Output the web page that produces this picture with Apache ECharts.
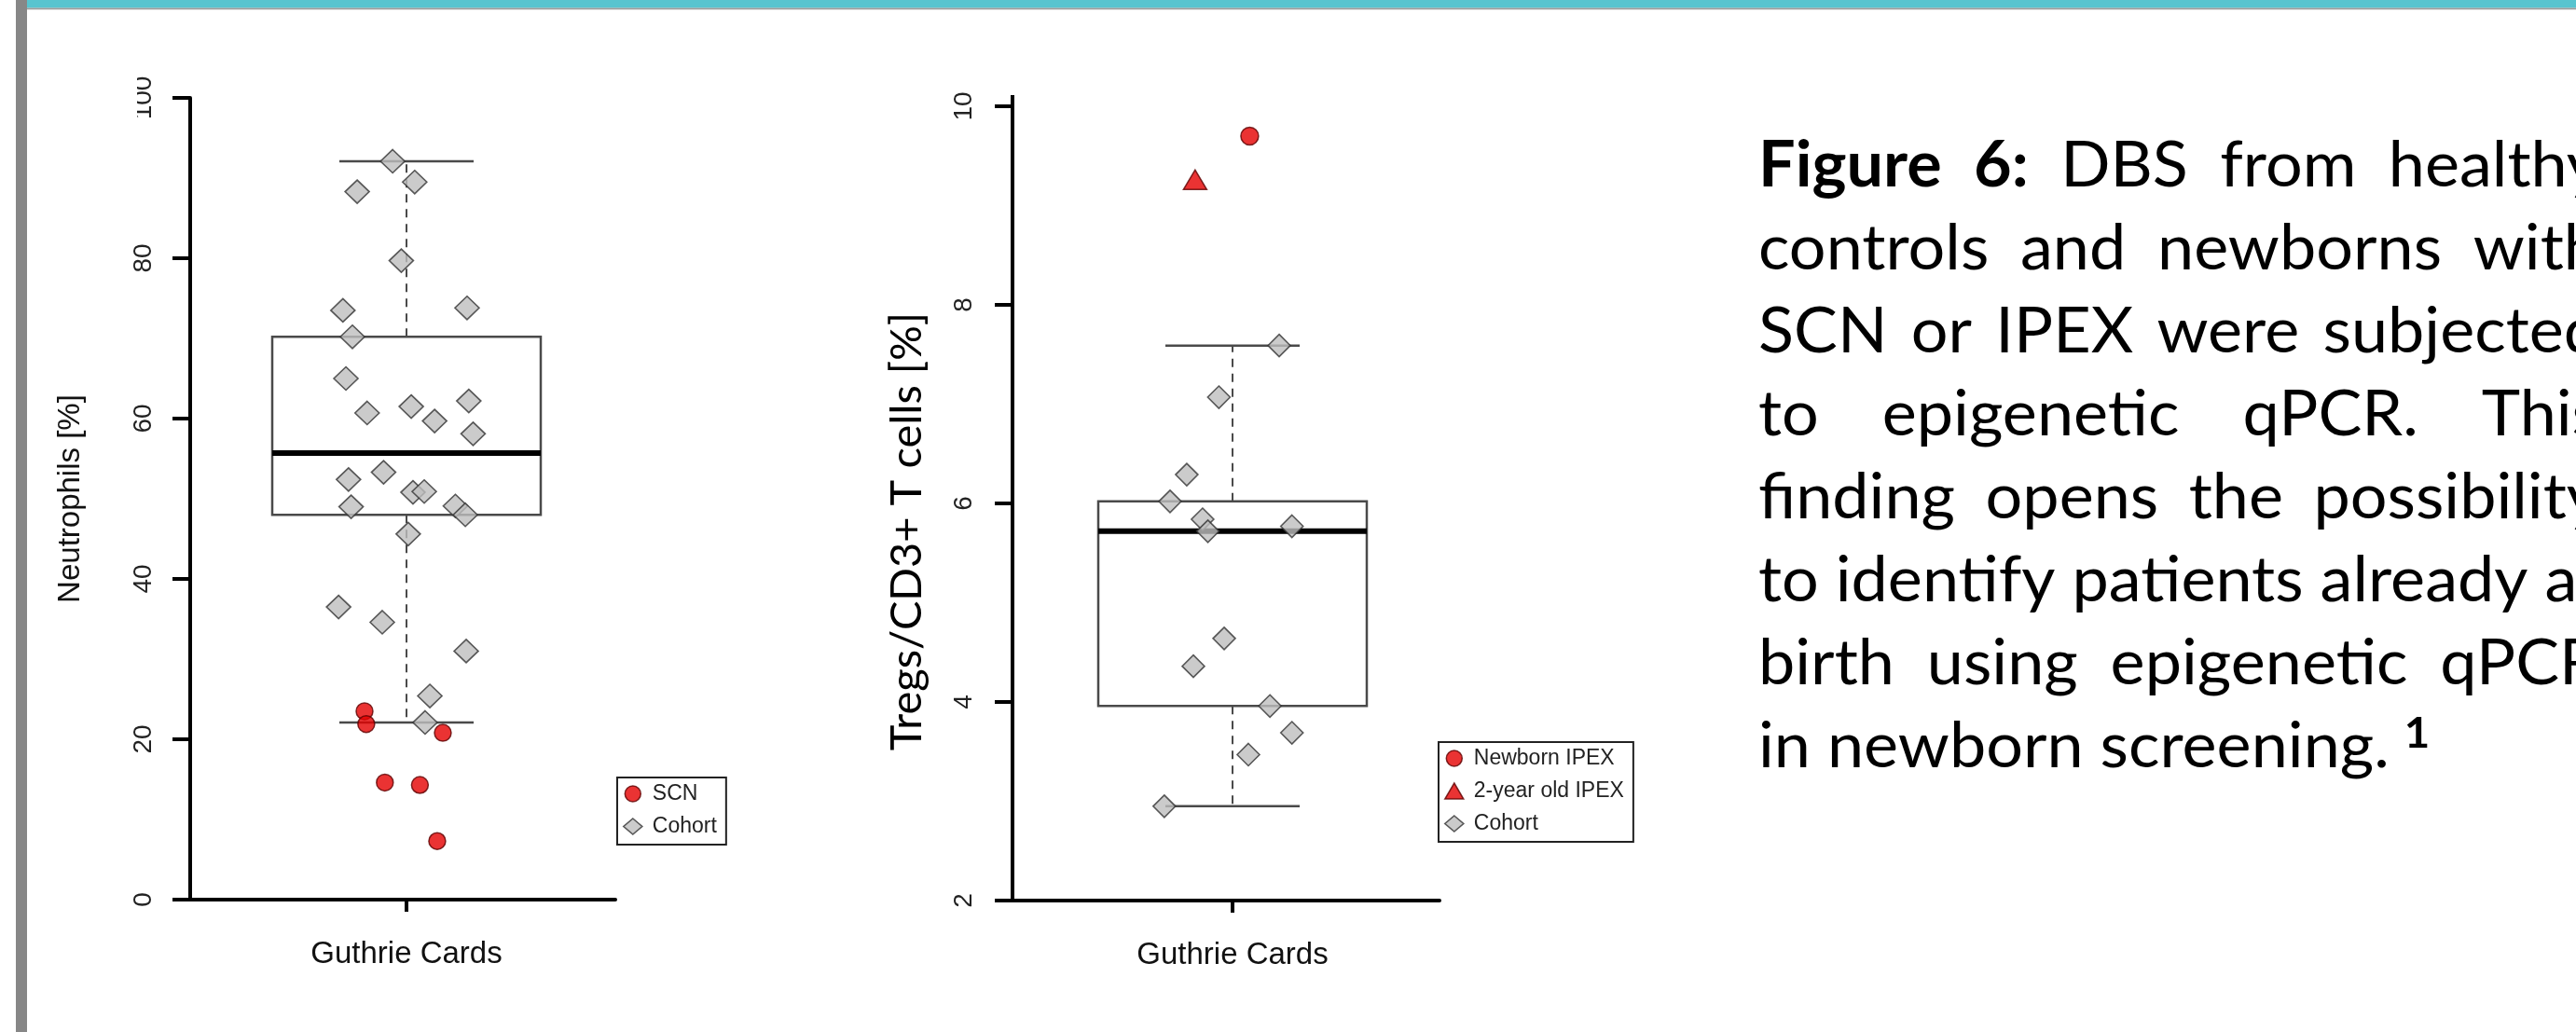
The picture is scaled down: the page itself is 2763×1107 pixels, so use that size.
<!DOCTYPE html>
<html>
<head>
<meta charset="utf-8">
<script src="https://cdn.jsdelivr.net/npm/echarts@6/dist/echarts.min.js"></script>
<style>
  html, body { margin: 0; padding: 0; background: #ffffff; }
  #chart { width: 2763px; height: 1107px; }
</style>
</head>
<body>
<div id="chart"></div>
<script>
// ---------- data ----------
const categories = ['Guthrie Cards'];

// Panel A: neutrophils [%] in dried blood spots
const neutroTicks = [0, 20, 40, 60, 80, 100];
const neutroCohortX = [0.968, 1.019, 0.886, 0.988, 0.853, 1.140, 0.875, 0.860, 0.909, 1.011, 1.065, 1.144, 1.154,
                       0.866, 0.947, 1.015, 1.041, 0.872, 1.113, 1.136, 1.004, 0.843, 0.944, 1.138, 1.054, 1.043];
const neutroCohortY = [92.1, 89.5, 88.3, 79.7, 73.5, 73.8, 70.2, 65.0, 60.7, 61.5, 59.7, 62.2, 58.1,
                       52.4, 53.3, 50.8, 50.9, 49.0, 49.1, 48.0, 45.6, 36.5, 34.6, 31.0, 25.4, 22.1];
const neutroScnX = [0.903, 0.907, 1.084, 0.950, 1.031, 1.071];
const neutroScnY = [23.5, 21.9, 20.8, 14.6, 14.3, 7.3];

// Panel B: Tregs / CD3+ T cells [%]
const tregTicks = [2, 4, 6, 8, 10];
const tregCohortX = [1.106, 0.969, 0.896, 0.858, 0.932, 0.944, 1.135, 0.981, 0.911, 1.085, 1.135, 1.036, 0.845];
const tregCohortY = [7.59, 7.07, 6.29, 6.02, 5.84, 5.72, 5.77, 4.64, 4.36, 3.96, 3.69, 3.47, 2.95];
const tregNewbornX = [1.039];
const tregNewbornY = [9.70];
const tregTwoYearX = [0.915];
const tregTwoYearY = [9.26];

// Caption
const captionLead = 'Figure 6:';
const captionLines = [
  'Figure 6: DBS from healthy',
  'controls and newborns with',
  'SCN or IPEX were subjected',
  'to epigenetic qPCR. This',
  'finding opens the possibility',
  'to identify patients already at',
  'birth using epigenetic qPCR',
  'in newborn screening.'
];
const captionNote = '1';

// ---------- helpers ----------
const zip = (xs, ys) => xs.map((x, i) => [x, ys[i]]);

// Tukey five-number summary (lower whisker, hinges, median, upper whisker)
function fivenum(vals) {
  const s = [...vals].sort((a, b) => a - b);
  const n = s.length;
  const n4 = Math.floor((n + 3) / 2) / 2;
  const d = [1, n4, (n + 1) / 2, n + 1 - n4, n];
  return d.map(p => 0.5 * (s[Math.floor(p) - 1] + s[Math.ceil(p) - 1]));
}

// ---------- layout ----------
const P1 = { left: 204, top: 105, width: 456, height: 860, center: 436 };
const P2 = { left: 1086, top: 114, width: 458, height: 852, center: 1322 };
const xMaxOf = p => 0.5 + p.width / (2 * (p.center - p.left));

const boxHalf = 144;
const capHalf = 72;
const boxStroke = '#4a4a4a';

function boxRenderer(params, api) {
  const x = api.value(0);
  const lo = api.coord([x, api.value(1)]);
  const q1 = api.coord([x, api.value(2)]);
  const md = api.coord([x, api.value(3)]);
  const q3 = api.coord([x, api.value(4)]);
  const hi = api.coord([x, api.value(5)]);
  const cx = md[0];
  const dash = { stroke: boxStroke, lineWidth: 2, lineDash: [9, 7] };
  const solid = { stroke: boxStroke, lineWidth: 2.5 };
  return {
    type: 'group',
    children: [
      { type: 'line', shape: { x1: cx, y1: q3[1], x2: cx, y2: hi[1] }, style: dash },
      { type: 'line', shape: { x1: cx, y1: q1[1], x2: cx, y2: lo[1] }, style: dash },
      { type: 'line', shape: { x1: cx - capHalf, y1: hi[1], x2: cx + capHalf, y2: hi[1] }, style: solid },
      { type: 'line', shape: { x1: cx - capHalf, y1: lo[1], x2: cx + capHalf, y2: lo[1] }, style: solid },
      { type: 'rect', shape: { x: cx - boxHalf, y: q3[1], width: 2 * boxHalf, height: q1[1] - q3[1] },
        style: { fill: 'rgba(0,0,0,0)', stroke: boxStroke, lineWidth: 2.5 } },
      { type: 'line', shape: { x1: cx - boxHalf, y1: md[1], x2: cx + boxHalf, y2: md[1] },
        style: { stroke: '#000', lineWidth: 6 } }
    ]
  };
}

const rFont = 'Liberation Sans';
const calibriLike = 'Lato';

function yAxisOf(gridIndex, ticks, name, nameGap, nameStyle, labelMargin) {
  return {
    type: 'value', gridIndex,
    min: ticks[0], max: ticks[ticks.length - 1], interval: ticks[1] - ticks[0],
    axisLine: { show: true, lineStyle: { color: '#000', width: 4 } },
    axisTick: { show: true, length: 19, lineStyle: { color: '#000', width: 4 } },
    axisLabel: { rotate: 90, fontSize: 28, fontFamily: rFont, color: '#222', margin: labelMargin },
    splitLine: { show: false },
    name, nameLocation: 'middle', nameRotate: 90, nameGap, nameTextStyle: nameStyle
  };
}

function xAxisOf(gridIndex, p) {
  return {
    type: 'value', gridIndex, min: 0.5, max: xMaxOf(p),
    axisLine: { show: true, onZero: false, lineStyle: { color: '#000', width: 4 } },
    axisTick: { show: true, customValues: [1], length: 13, lineStyle: { color: '#000', width: 4 } },
    axisLabel: { customValues: [1], formatter: () => categories[0], fontSize: 33, fontFamily: rFont,
                 color: '#111', margin: 42 },
    splitLine: { show: false }
  };
}

const cohortStyle = { color: '#bebebe', borderColor: '#333', borderWidth: 1.6 };
const redStyle = { color: '#e50000', borderColor: '#5c0000', borderWidth: 1.5 };

function legendOf(left, top, names, styles) {
  return {
    orient: 'vertical', left, top, selectedMode: false,
    padding: [6, 10, 8, 6], itemGap: 12, itemWidth: 20, itemHeight: 17,
    borderColor: '#222', borderWidth: 2, backgroundColor: '#fff',
    textStyle: { fontFamily: rFont, fontSize: 23, color: '#222', padding: [0, 0, 0, 6] },
    data: names.map((n, i) => ({ name: n, itemStyle: styles[i] }))
  };
}

// ---------- caption (justified, Calibri-like) ----------
const capFs = 68;
const capLeft = 1886, capRight = 2789, capBase = 203, capStep = 89;
const mctx = document.createElement('canvas').getContext('2d');
const fontOf = (bold, fs) => `${bold ? 'bold ' : ''}${fs}px ${calibriLike}`;
function textW(t, bold, fs) { mctx.font = fontOf(bold, fs); return mctx.measureText(t).width; }

const leadCount = captionLead.split(' ').length;
const spaceW = textW(' ', false, capFs);
const refWords = captionLines[5].split(' ');
const refNatural = refWords.reduce((s, t) => s + textW(t, false, capFs), 0) + spaceW * (refWords.length - 1);
const capSx = (capRight - capLeft) / refNatural;

const captionGraphics = [];
let lastLineEnd = capLeft;
captionLines.forEach((line, li) => {
  const words = line.split(' ');
  const bolds = words.map((_, wi) => li === 0 && wi < leadCount);
  const widths = words.map((t, wi) => textW(t, bolds[wi], capFs) * capSx);
  const sum = widths.reduce((a, b) => a + b, 0);
  const justify = li < captionLines.length - 1;
  const gap = justify ? (capRight - capLeft - sum) / (words.length - 1) : spaceW * capSx;
  let x = capLeft;
  const y = capBase + li * capStep - 0.36 * capFs;
  words.forEach((t, wi) => {
    captionGraphics.push({
      type: 'text', x, y, scaleX: capSx, silent: true,
      style: { text: t, font: fontOf(bolds[wi], capFs), fill: '#000', verticalAlign: 'middle', align: 'left' }
    });
    x += widths[wi] + gap;
  });
  lastLineEnd = x - gap;
});
// superscript reference mark after the last line
const noteFs = 46;
captionGraphics.push({
  type: 'text', x: lastLineEnd + 16, y: capBase + (captionLines.length - 1) * capStep - 22 - 0.36 * noteFs,
  scaleX: capSx, silent: true,
  style: { text: captionNote, font: fontOf(true, noteFs), fill: '#000', verticalAlign: 'middle', align: 'left' }
});

// ---------- chart ----------
const chart = echarts.init(document.getElementById('chart'), null, { renderer: 'canvas' });

const option = {
  backgroundColor: '#ffffff',
  animation: false,
  grid: [
    { left: P1.left, top: P1.top, width: P1.width, height: P1.height, containLabel: false, outerBoundsMode: 'none' },
    { left: P2.left, top: P2.top, width: P2.width, height: P2.height, containLabel: false, outerBoundsMode: 'none' }
  ],
  xAxis: [xAxisOf(0, P1), xAxisOf(1, P2)],
  yAxis: [
    yAxisOf(0, neutroTicks, 'Neutrophils [%]', 112,
      { fontFamily: rFont, fontSize: 33, color: '#111' }, 36),
    yAxisOf(1, tregTicks, 'Tregs/CD3+ T cells [%]', 90,
      { fontFamily: calibriLike, fontSize: 47, color: '#000', padding: [0, 60, 0, 0] }, 38)
  ],
  legend: [
    legendOf(662, 834, ['SCN', 'Cohort'], [redStyle, cohortStyle]),
    legendOf(1543, 796, ['Newborn IPEX', '2-year old IPEX', 'Cohort'], [redStyle, redStyle, cohortStyle])
  ],
  series: [
    {
      type: 'custom', name: 'box-neutro', xAxisIndex: 0, yAxisIndex: 0, z: 1, silent: true, clip: false,
      renderItem: boxRenderer, encode: { x: 0, y: [1, 2, 3, 4, 5] },
      data: [[1, ...fivenum(neutroCohortY)]]
    },
    {
      type: 'scatter', name: 'Cohort', xAxisIndex: 0, yAxisIndex: 0, z: 3, silent: true,
      symbol: 'diamond', symbolSize: [26, 25], itemStyle: cohortStyle,
      data: zip(neutroCohortX, neutroCohortY)
    },
    {
      type: 'scatter', name: 'SCN', xAxisIndex: 0, yAxisIndex: 0, z: 4, silent: true,
      symbol: 'circle', symbolSize: 18, itemStyle: redStyle,
      data: zip(neutroScnX, neutroScnY)
    },
    {
      type: 'custom', name: 'box-treg', xAxisIndex: 1, yAxisIndex: 1, z: 1, silent: true, clip: false,
      renderItem: boxRenderer, encode: { x: 0, y: [1, 2, 3, 4, 5] },
      data: [[1, ...fivenum(tregCohortY)]]
    },
    {
      type: 'scatter', name: 'Cohort', xAxisIndex: 1, yAxisIndex: 1, z: 3, silent: true,
      symbol: 'diamond', symbolSize: [24, 24], itemStyle: cohortStyle,
      data: zip(tregCohortX, tregCohortY)
    },
    {
      type: 'scatter', name: 'Newborn IPEX', xAxisIndex: 1, yAxisIndex: 1, z: 4, silent: true,
      symbol: 'circle', symbolSize: 19, itemStyle: redStyle,
      data: zip(tregNewbornX, tregNewbornY)
    },
    {
      type: 'scatter', name: '2-year old IPEX', xAxisIndex: 1, yAxisIndex: 1, z: 4, silent: true,
      symbol: 'triangle', symbolSize: [25, 21], itemStyle: redStyle,
      data: zip(tregTwoYearX, tregTwoYearY)
    }
  ],
  graphic: [
    // slide frame: teal header band, thin rule, left bar
    { type: 'rect', silent: true, z: 10, shape: { x: 29, y: 0, width: 2734, height: 8.5 }, style: { fill: '#58c4cf' } },
    { type: 'rect', silent: true, z: 10, shape: { x: 29, y: 8.5, width: 2734, height: 1.8 }, style: { fill: '#9a9a9a' } },
    { type: 'rect', silent: true, z: 10, shape: { x: 17, y: 0, width: 12, height: 1107 }, style: { fill: '#878787' } },
    // the Treg axis line runs a little past its top tick
    { type: 'rect', silent: true, z: 10, shape: { x: P2.left - 2, y: P2.top - 12, width: 4, height: 14 }, style: { fill: '#000' } },
    // top label of the neutrophil axis is cut on its left side
    { type: 'rect', silent: true, z: 100, shape: { x: P1.left - 90, y: P1.top - 30, width: 33, height: 60 }, style: { fill: '#ffffff' } },
    ...captionGraphics
  ]
};

chart.setOption(option);
</script>
</body>
</html>
